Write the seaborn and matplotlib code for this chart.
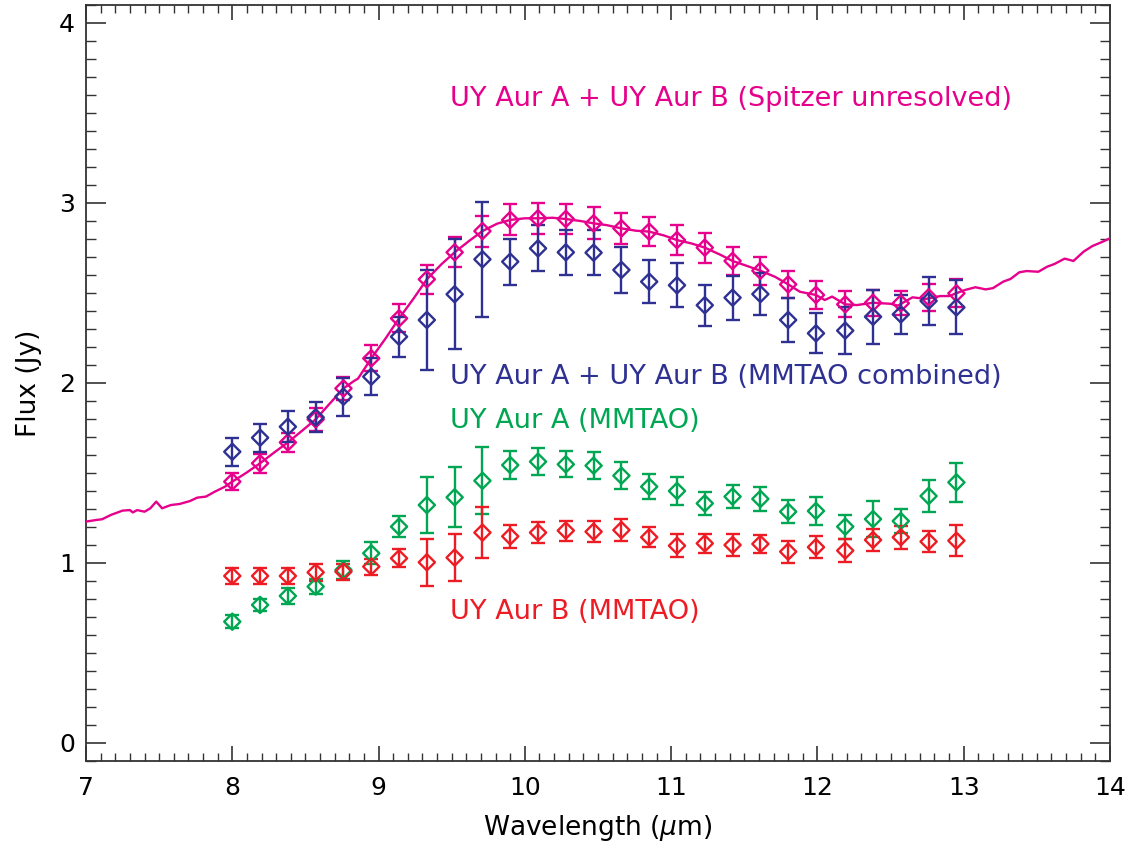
import numpy as np
import pandas as pd
import matplotlib
matplotlib.use("Agg")
import matplotlib.pyplot as plt
from matplotlib.ticker import MultipleLocator
import seaborn as sns

# ---------------- data ----------------
wave_pts = [8.00, 8.19, 8.38, 8.57, 8.76, 8.95, 9.14, 9.33, 9.52, 9.71, 9.90,
            10.09, 10.28, 10.47, 10.66, 10.85, 11.04, 11.23, 11.42, 11.61, 11.80,
            11.99, 12.19, 12.38, 12.57, 12.76, 12.95]

spitzer_flux = [1.452, 1.554, 1.670, 1.798, 1.970, 2.137, 2.359, 2.576, 2.726, 2.844, 2.906,
                2.915, 2.911, 2.887, 2.859, 2.841, 2.794, 2.752, 2.678, 2.624, 2.548,
                2.489, 2.437, 2.446, 2.443, 2.476, 2.498]
spitzer_err = [0.046, 0.054, 0.053, 0.062, 0.063, 0.072, 0.078, 0.080, 0.084, 0.086, 0.086,
               0.086, 0.086, 0.088, 0.085, 0.082, 0.083, 0.083, 0.079, 0.078, 0.076,
               0.077, 0.073, 0.072, 0.068, 0.074, 0.078]

comb_flux = [1.618, 1.696, 1.757, 1.809, 1.924, 2.035, 2.257, 2.350, 2.493, 2.687, 2.674,
             2.748, 2.726, 2.724, 2.628, 2.563, 2.543, 2.432, 2.474, 2.494, 2.350,
             2.276, 2.291, 2.368, 2.381, 2.456, 2.420]
comb_err = [0.078, 0.078, 0.087, 0.083, 0.105, 0.102, 0.111, 0.280, 0.305, 0.320, 0.128,
            0.128, 0.125, 0.126, 0.130, 0.120, 0.122, 0.113, 0.123, 0.116, 0.122,
            0.111, 0.130, 0.149, 0.110, 0.135, 0.150]

a_flux = [0.674, 0.767, 0.817, 0.869, 0.961, 1.054, 1.202, 1.322, 1.365, 1.457, 1.544,
          1.563, 1.548, 1.541, 1.485, 1.424, 1.400, 1.331, 1.369, 1.356, 1.285,
          1.289, 1.202, 1.244, 1.233, 1.372, 1.448]
a_err = [0.035, 0.033, 0.046, 0.040, 0.051, 0.062, 0.060, 0.153, 0.167, 0.185, 0.076,
         0.076, 0.072, 0.074, 0.075, 0.070, 0.078, 0.062, 0.065, 0.068, 0.063,
         0.077, 0.067, 0.100, 0.067, 0.088, 0.109]

b_flux = [0.928, 0.928, 0.928, 0.948, 0.952, 0.980, 1.026, 1.004, 1.030, 1.169, 1.148,
          1.169, 1.180, 1.174, 1.183, 1.143, 1.096, 1.109, 1.100, 1.106, 1.063,
          1.088, 1.069, 1.128, 1.143, 1.119, 1.124]
b_err = [0.045, 0.045, 0.045, 0.046, 0.045, 0.044, 0.050, 0.130, 0.130, 0.140, 0.065,
         0.060, 0.056, 0.060, 0.060, 0.056, 0.064, 0.054, 0.060, 0.051, 0.061,
         0.062, 0.063, 0.062, 0.064, 0.060, 0.085]

spec_wave = [7.00, 7.07, 7.11, 7.17, 7.25, 7.30, 7.32, 7.35, 7.40, 7.44, 7.48, 7.52,
             7.58, 7.64, 7.71, 7.76, 7.82, 7.88, 7.95, 8.00, 8.09, 8.19, 8.28, 8.38,
             8.47, 8.57, 8.66, 8.76, 8.83, 8.86, 8.95, 9.05, 9.14, 9.24, 9.33, 9.43,
             9.52, 9.62, 9.71, 9.81, 9.90, 10.00, 10.09, 10.19, 10.28, 10.38, 10.47,
             10.56, 10.66, 10.76, 10.85, 10.95, 11.04, 11.14, 11.23, 11.33, 11.42,
             11.52, 11.61, 11.71, 11.80, 11.88, 11.99, 12.05, 12.10, 12.19, 12.27,
             12.38, 12.50, 12.55, 12.65, 12.74, 12.84, 12.90, 12.96, 13.01, 13.08,
             13.15, 13.20, 13.27, 13.32, 13.38, 13.43, 13.51, 13.57, 13.62, 13.69,
             13.75, 13.82, 13.88, 13.95, 14.00]
spec_flux = [1.230, 1.239, 1.243, 1.267, 1.291, 1.294, 1.281, 1.294, 1.285, 1.304, 1.341, 1.304,
             1.322, 1.328, 1.344, 1.363, 1.369, 1.396, 1.424, 1.452, 1.498, 1.554, 1.610, 1.670,
             1.730, 1.798, 1.880, 1.970, 2.010, 2.025, 2.137, 2.250, 2.359, 2.470, 2.576, 2.660,
             2.726, 2.790, 2.844, 2.885, 2.906, 2.915, 2.915, 2.918, 2.911, 2.900, 2.887,
             2.877, 2.859, 2.846, 2.841, 2.820, 2.794, 2.775, 2.752, 2.715, 2.678,
             2.650, 2.624, 2.590, 2.548, 2.507, 2.489, 2.461, 2.480, 2.437, 2.433,
             2.446, 2.440, 2.430, 2.476, 2.467, 2.483, 2.483, 2.502, 2.517, 2.532,
             2.520, 2.527, 2.563, 2.578, 2.615, 2.622, 2.618, 2.646, 2.661, 2.691,
             2.678, 2.730, 2.761, 2.785, 2.804]

labels = ["UY Aur A + UY Aur B (Spitzer unresolved)",
          "UY Aur A + UY Aur B (MMTAO combined)",
          "UY Aur A (MMTAO)",
          "UY Aur B (MMTAO)"]
label_y = [3.541, 1.993, 1.752, 0.689]

x_ticks = [7, 8, 9, 10, 11, 12, 13, 14]
y_ticks = [0, 1, 2, 3, 4]

# ---------------- style ----------------
MAGENTA = "#E6008C"
NAVY = "#2E3192"
GREEN = "#00A651"
RED = "#ED1C24"
AXC = "#333333"

sns.set_theme(style="ticks")
plt.rcParams["font.family"] = ["DejaVu Sans"]
plt.rcParams["mathtext.fontset"] = "dejavusans"

fig = plt.figure(figsize=(11.37, 8.5), dpi=100)
ax = fig.add_axes([86 / 1137, 1 - 761 / 850, (1110 - 86) / 1137, (761 - 5) / 850])

spec_df = pd.DataFrame({"wave": spec_wave, "flux": spec_flux})
sns.lineplot(data=spec_df, x="wave", y="flux", color=MAGENTA, linewidth=1.7, ax=ax,
             zorder=3, estimator=None, sort=False)

series = [
    (spitzer_flux, spitzer_err, MAGENTA),
    (comb_flux, comb_err, NAVY),
    (a_flux, a_err, GREEN),
    (b_flux, b_err, RED),
]
for flux, err, col in series:
    ax.errorbar(wave_pts, flux, yerr=err, fmt="none", ecolor=col, elinewidth=1.7,
                capsize=5, capthick=1.7, zorder=4)
    df = pd.DataFrame({"wave": wave_pts, "flux": flux})
    sns.scatterplot(data=df, x="wave", y="flux", marker="D", s=68, facecolor="none",
                    edgecolor=col, linewidth=1.7, ax=ax, zorder=5)

for txt, yy, col in zip(labels, label_y, [MAGENTA, NAVY, GREEN, RED]):
    ax.text(9.49, yy, txt, color=col, fontsize=19.5, ha="left", va="baseline")

ax.set_xlim(7, 14)
ax.set_ylim(-0.1, 4.1)
ax.set_xticks(x_ticks)
ax.set_xticklabels([str(t) for t in x_ticks])
ax.set_yticks(y_ticks)
ax.set_yticklabels([str(t) for t in y_ticks])
ax.xaxis.set_minor_locator(MultipleLocator(0.1))
ax.yaxis.set_minor_locator(MultipleLocator(0.1))

ax.tick_params(axis="x", which="major", direction="in", length=11, width=1.2,
               top=True, bottom=True, labelsize=18, pad=11, color=AXC, labelcolor="black")
ax.tick_params(axis="x", which="minor", direction="in", length=6, width=1.0,
               top=True, bottom=True, color=AXC)
ax.tick_params(axis="y", which="major", direction="in", length=14.5, width=1.2,
               left=True, right=True, labelsize=18, pad=8, color=AXC, labelcolor="black")
ax.tick_params(axis="y", which="minor", direction="in", length=7, width=1.0,
               left=True, right=True, color=AXC)
for sp in ax.spines.values():
    sp.set_visible(True)
    sp.set_color(AXC)
    sp.set_linewidth(1.3)

ax.set_xlabel(r"Wavelength ($\mu$m)", fontsize=19, labelpad=9, color="black")
ax.set_ylabel("Flux (Jy)", fontsize=19, labelpad=12, color="black")

fig.savefig("out.png", dpi=100, facecolor="white")
